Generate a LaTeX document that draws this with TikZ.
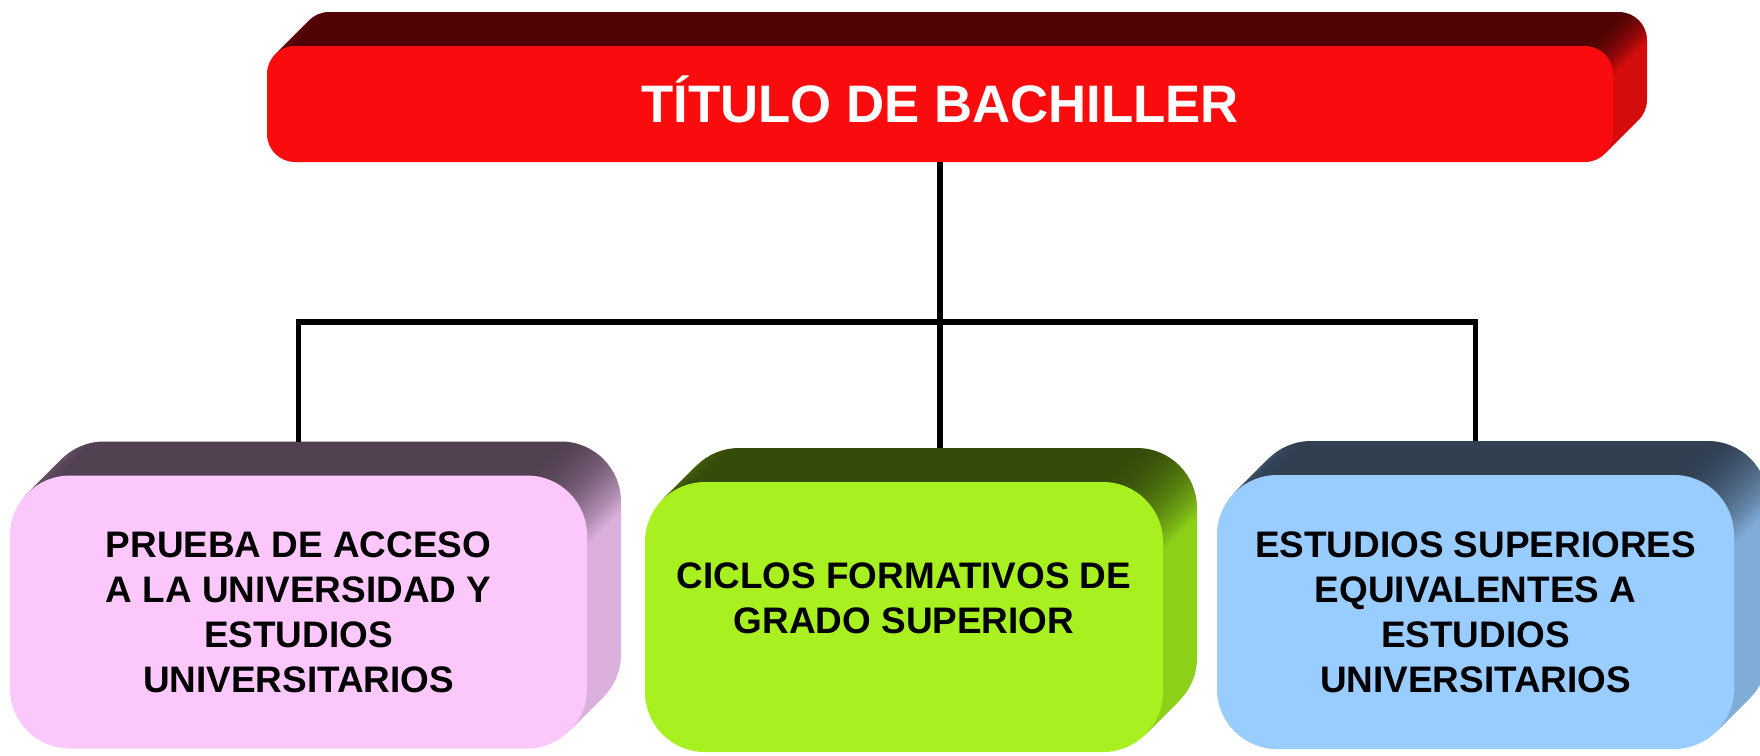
\documentclass[tikz,border=0pt]{standalone}
\usepackage{fontspec}
\setmainfont{Liberation Sans}
\usetikzlibrary{positioning}

\pgfdeclarelayer{background}
\pgfsetlayers{background,main}

\definecolor{redfront}{HTML}{FA0C0E}
\definecolor{redside}{HTML}{D40C0C}
\definecolor{redtop}{HTML}{4E0305}
\definecolor{pinkfront}{HTML}{FCC8FC}
\definecolor{pinkside}{HTML}{DCB0DC}
\definecolor{pinktop}{HTML}{504050}
\definecolor{greenfront}{HTML}{A8F020}
\definecolor{greenside}{HTML}{8CD018}
\definecolor{greentop}{HTML}{344A0A}
\definecolor{bluefront}{HTML}{99CCFF}
\definecolor{blueside}{HTML}{80ACD8}
\definecolor{bluetop}{HTML}{303E50}

\pgfdeclareverticalshading[sidec,topc]{extrude}{100bp}{color(0bp)=(sidec); color(62bp)=(sidec); color(75bp)=(topc); color(100bp)=(topc)}

\newcommand{\extrude}[4]{%
  \colorlet{sidec}{#2}\colorlet{topc}{#3}%
  \foreach \k in {34,32,...,2}
    \shade[shading=extrude, rounded corners=#4]
      ([shift={(\k/100,\k/100)}]#1.south west) rectangle ([shift={(\k/100,\k/100)}]#1.north east);
}

\begin{document}
\begin{tikzpicture}
      \tikzstyle{facebox}=[rectangle, outer sep=0pt, inner sep=0pt, align=center]
      \tikzstyle{titlebox}=[facebox, minimum width=13.46cm, minimum height=1.16cm, rounded corners=0.28cm, fill=redfront, text=white, text height=0.377cm, text depth=0pt, font=\bfseries\fontsize{15}{18}\selectfont]
      \tikzstyle{branch}=[facebox, rounded corners=0.6cm, font=\bfseries\fontsize{10.5}{12.8}\selectfont]
      \tikzstyle{connect}=[line width=1.5pt, black]

      \useasboundingbox (0,0) rectangle (17.6,-7.55);

      \node[titlebox] (titulo) at (9.40,-1.04) {TÍTULO DE BACHILLER};
      \node[branch, fill=greenfront, minimum width=5.18cm, minimum height=2.70cm, text depth=0.38cm] (ciclos) [below=3.20cm of titulo, xshift=-0.36cm] {CICLOS FORMATIVOS DE\\GRADO SUPERIOR};
      \node[branch, fill=pinkfront, minimum width=5.77cm, minimum height=2.73cm] (pau) [left=0.58cm of ciclos, yshift=0.05cm] {PRUEBA DE ACCESO\\A LA UNIVERSIDAD Y\\ESTUDIOS\\UNIVERSITARIOS};
      \node[branch, fill=bluefront, minimum width=5.17cm, minimum height=2.74cm] (estudios) [right=0.54cm of ciclos, yshift=0.05cm] {ESTUDIOS SUPERIORES\\EQUIVALENTES A\\ESTUDIOS\\UNIVERSITARIOS};

      \begin{pgfonlayer}{background}
        \extrude{titulo}{redside}{redtop}{0.28cm}
        \extrude{pau}{pinkside}{pinktop}{0.6cm}
        \extrude{ciclos}{greenside}{greentop}{0.6cm}
        \extrude{estudios}{blueside}{bluetop}{0.6cm}
      \end{pgfonlayer}

      \coordinate (hub) at ([yshift=-1.60cm]titulo.south);
      \coordinate (pau top) at ([yshift=0.34cm]pau.north);
      \coordinate (ciclos top) at ([yshift=0.34cm]ciclos.north);
      \coordinate (estudios top) at ([yshift=0.34cm]estudios.north);

      \draw[connect] (titulo.south) -- (hub |- ciclos top);
      \draw[connect] (pau top) |- (hub) -| (estudios top);
\end{tikzpicture}
\end{document}
